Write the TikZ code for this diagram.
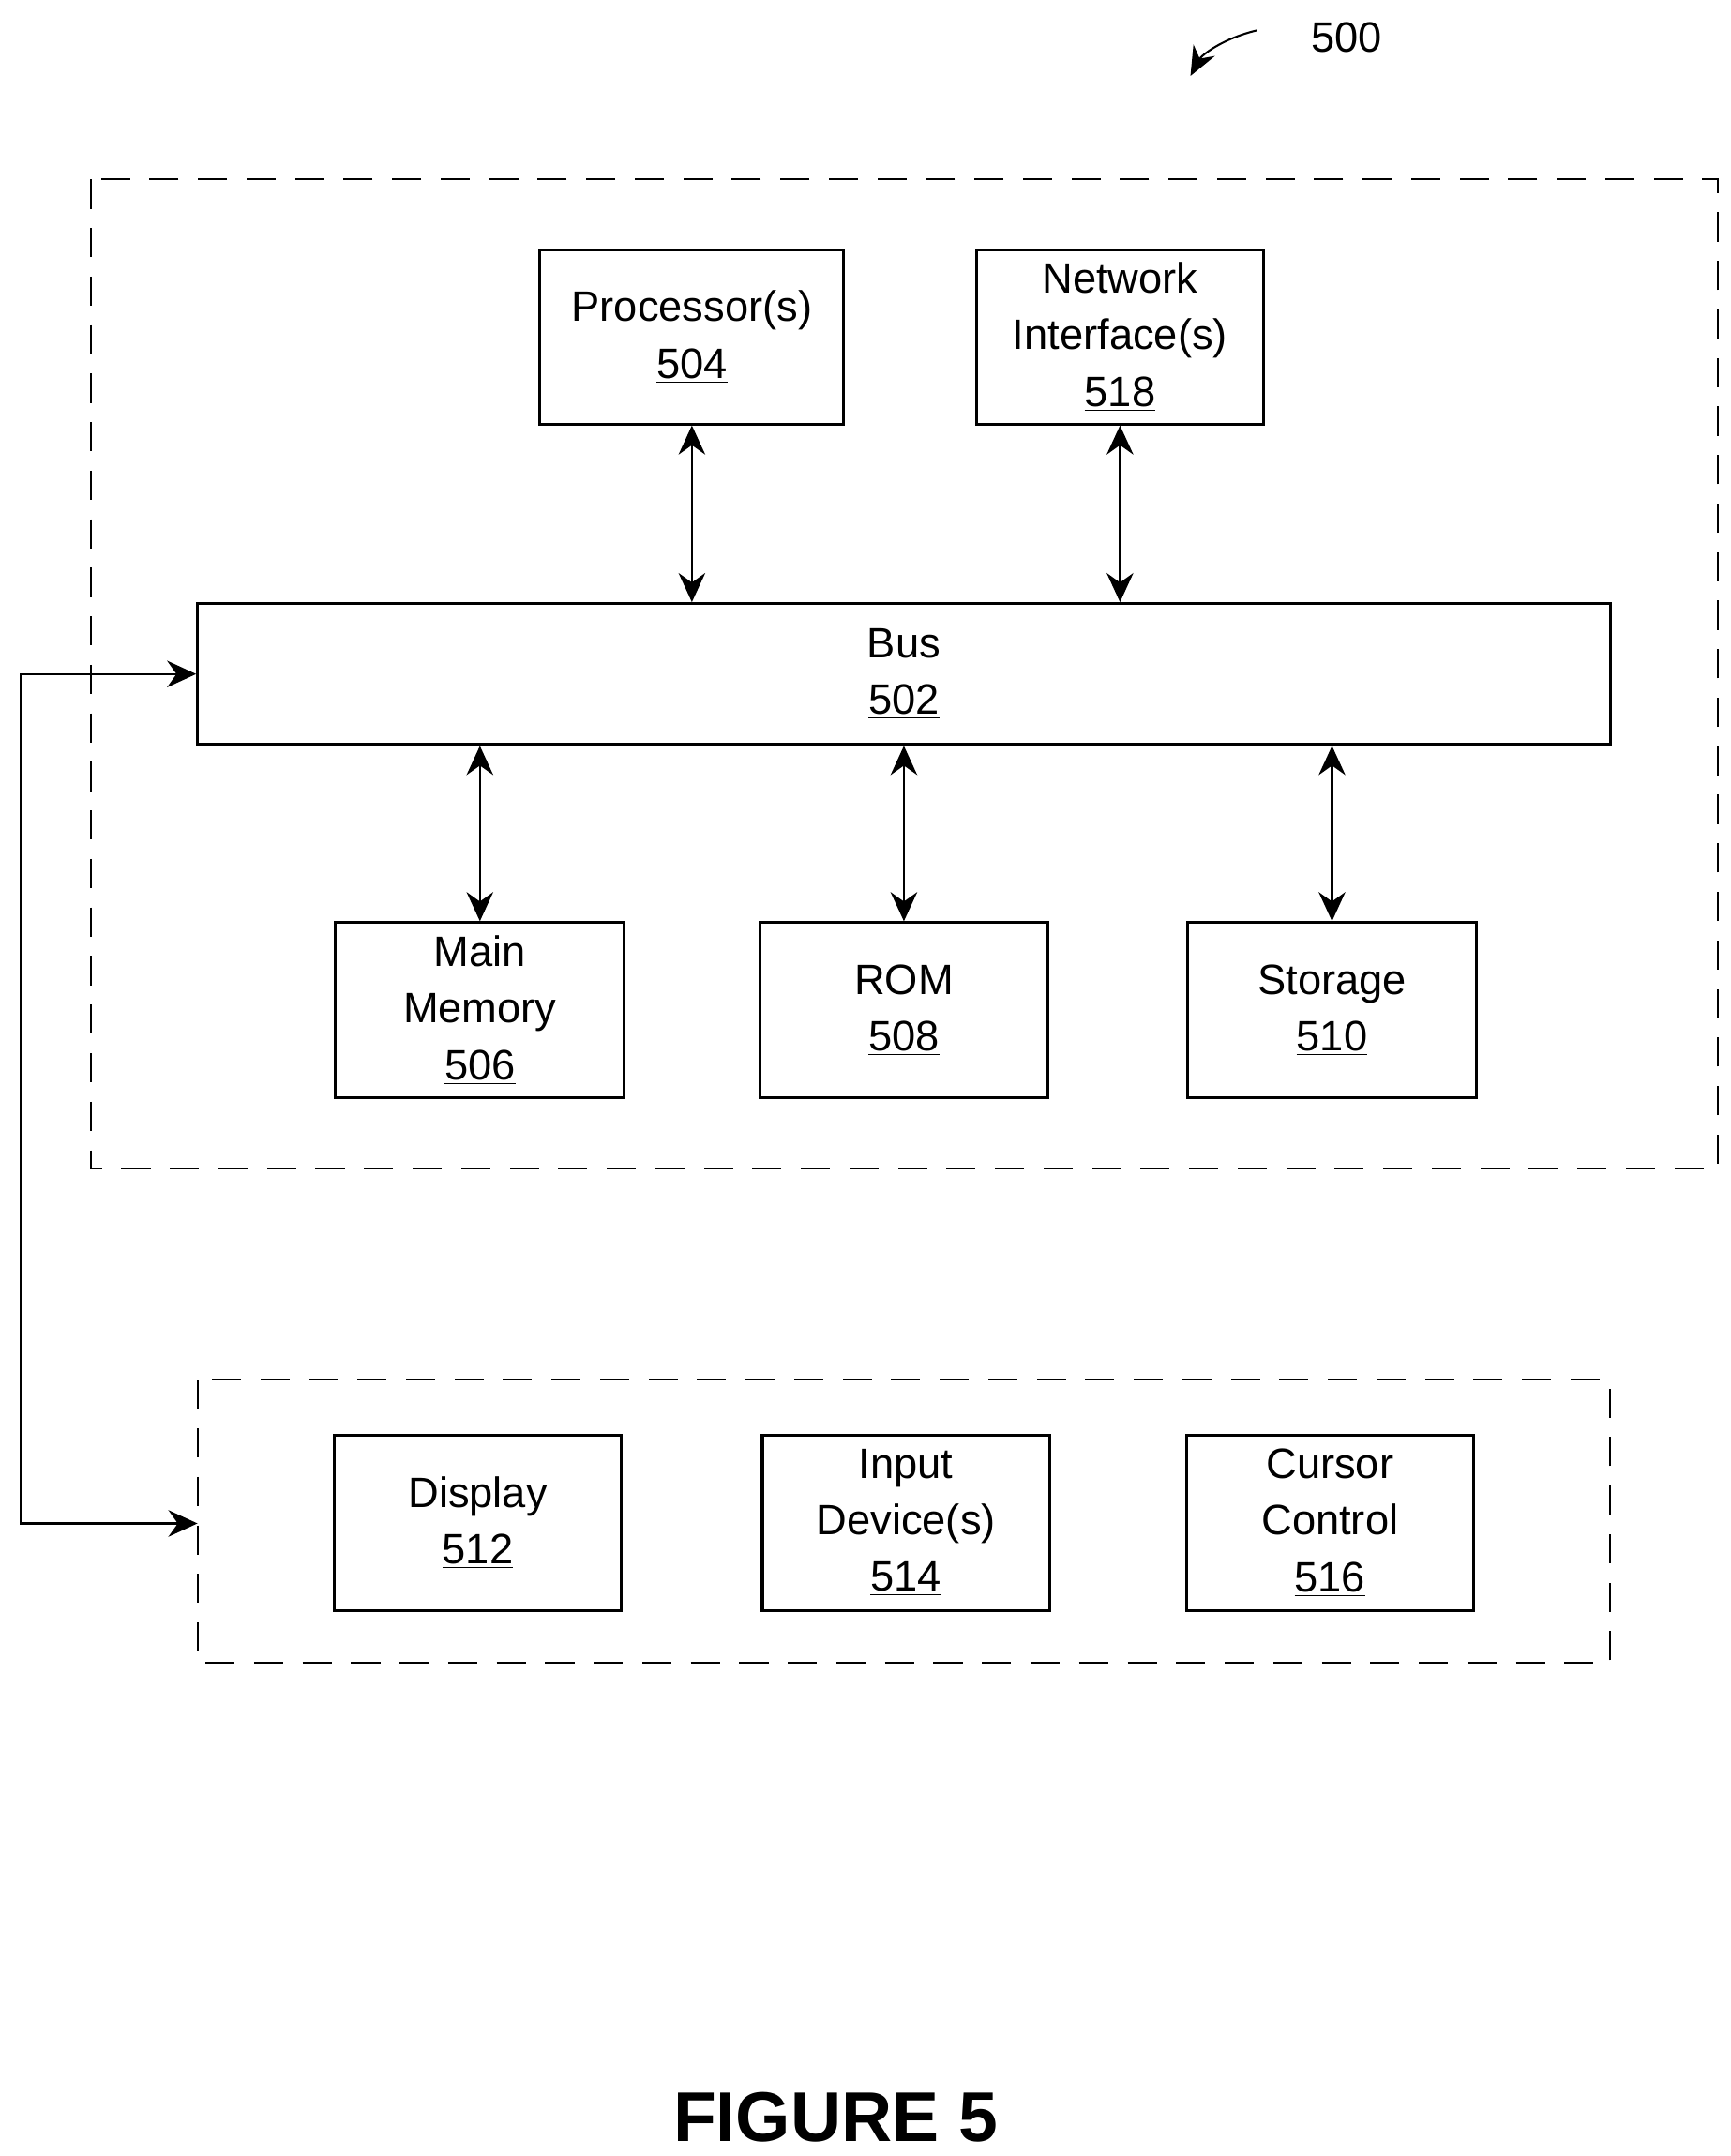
\documentclass[tikz,border=0pt]{standalone}
\usepackage{fontspec}
\setmainfont{Liberation Sans}
\usetikzlibrary{positioning,arrows.meta,calc}
\tikzstyle{ubox}=[rectangle, draw=black, very thick, inner sep=0pt, align=center,
 font=\fontsize{17.5}{23.3}\selectfont]
\tikzstyle{dbox}=[draw=black, thick, dash pattern=on 12pt off 8pt]
\tikzstyle{pline}=[{Stealth[length=12pt,width=11pt]}-{Stealth[length=12pt,width=11pt]}, thick]

\begin{document}
\begin{tikzpicture}[x=0.02cm,y=-0.02cm]
\useasboundingbox (0,0) rectangle (1253,1561);

\draw[dbox] (66,130) rectangle (1244,846);
\draw[dbox] (143,999) rectangle (1166,1204);

\node (PROC) [ubox, minimum width=4.4cm, minimum height=2.52cm] at (501,244) {Processor(s)\\\underline{504}};
\node (NET) [ubox, minimum width=4.16cm, minimum height=2.52cm] at (811,244) {Network\\Interface(s)\\\underline{518}};
\node (BUS) [ubox, minimum width=20.46cm, minimum height=2.04cm] at (654.5,488) {Bus\\\underline{502}};
\node (MEM) [ubox, minimum width=4.18cm, minimum height=2.54cm] at (347.5,731.5) {Main\\Memory\\\underline{506}};
\node (ROM) [ubox, minimum width=4.18cm, minimum height=2.54cm] at (654.5,731.5) {ROM\\\underline{508}};
\node (STOR) [ubox, minimum width=4.18cm, minimum height=2.54cm] at (964.5,731.5) {Storage\\\underline{510}};
\node (DISP) [ubox, minimum width=4.16cm, minimum height=2.54cm] at (346,1102.5) {Display\\\underline{512}};
\node (INP) [ubox, minimum width=4.16cm, minimum height=2.54cm] at (656,1102.5) {Input\\Device(s)\\\underline{514}};
\node (CUR) [ubox, minimum width=4.16cm, minimum height=2.54cm] at (963,1102.5) {Cursor\\Control\\\underline{516}};
\coordinate (IOIN) at (143,1103);

\draw[pline] (PROC.south) -- (BUS.north -| PROC.south);
\draw[pline] (NET.south) -- (BUS.north -| NET.south);
\draw[pline] (MEM.north) -- (BUS.south -| MEM.north);
\draw[pline] (ROM.north) -- (BUS.south -| ROM.north);
\draw[pline] (STOR.north) -- (BUS.south -| STOR.north);
\draw[pline] (BUS.west) -- (15,488) |- (IOIN);

\node (REF) [font=\fontsize{17.5}{21}\selectfont] at (975,27) {500};
\draw[thick, -{Stealth[length=12pt,width=10pt]}] (910,22) .. controls (885,28) and (870,40) .. (862,55);
\node (FIG) [font=\fontsize{29}{33}\bfseries\selectfont] at (605,1533) {FIGURE 5};
\end{tikzpicture}
\end{document}
